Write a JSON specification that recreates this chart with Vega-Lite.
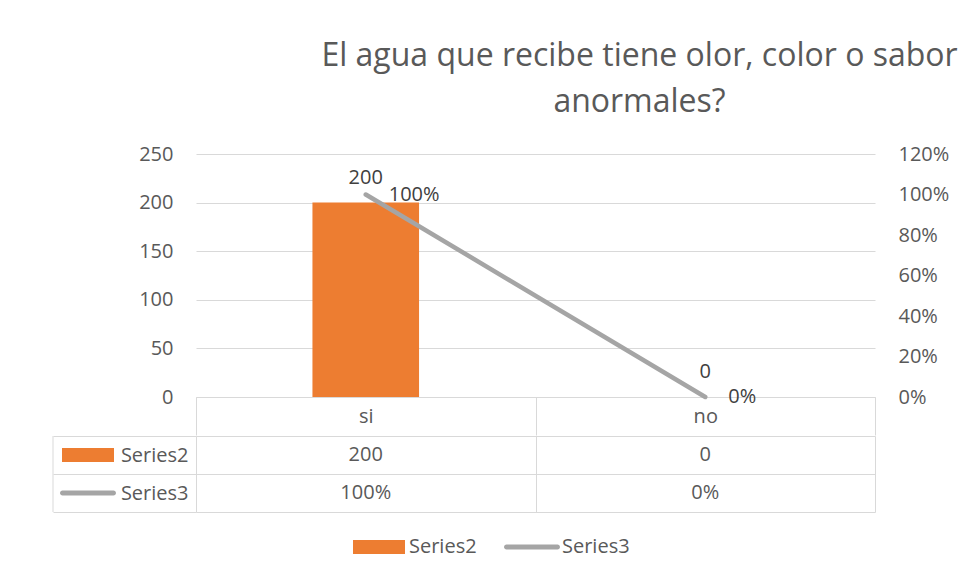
{
  "$schema": "https://vega.github.io/schema/vega-lite/v6.json",
  "background": "white",
  "padding": {"left": 52, "top": 40, "right": 0, "bottom": 70},
  "config": {
    "font": "Open Sans",
    "view": {"stroke": null},
    "axis": {"labelFont": "Open Sans", "labelColor": "#595959", "labelFontSize": 20},
    "concat": {"spacing": -12}
  },
  "datasets": {
    "chart": [
      {"cat": "si", "count": 200, "pct": 1},
      {"cat": "no", "count": 0, "pct": 0}
    ],
    "table": [
      {"cat": "si", "series": "Series2", "label": "200"},
      {"cat": "no", "series": "Series2", "label": "0"},
      {"cat": "si", "series": "Series3", "label": "100%"},
      {"cat": "no", "series": "Series3", "label": "0%"}
    ],
    "keys": [
      {"series": "Series2"},
      {"series": "Series3"}
    ]
  },
  "spacing": -12,
  "vconcat": [
    {
      "width": 679,
      "height": 243,
      "title": {
        "text": ["El agua que recibe tiene olor, color o sabor", "anormales?"],
        "fontSize": 32,
        "font": "Open Sans",
        "fontWeight": "normal",
        "color": "#595959",
        "anchor": "middle",
        "frame": "group",
        "dx": 104,
        "lineHeight": 46,
        "offset": 25
      },
      "data": {"name": "chart"},
      "encoding": {
        "x": {
          "field": "cat",
          "type": "nominal",
          "sort": ["si", "no"],
          "scale": {"paddingInner": 0, "paddingOuter": 0},
          "axis": {
            "title": null,
            "labelAngle": 0,
            "tickBand": "extent",
            "tickSize": 38,
            "tickColor": "#D9D9D9",
            "domainColor": "#D9D9D9",
            "labelPadding": -19,
            "labelBaseline": "middle",
            "grid": false
          }
        }
      },
      "layer": [
        {
          "layer": [
            {
              "mark": {"type": "bar", "color": "#ED7D31", "width": {"band": 0.314}},
              "encoding": {
                "y": {
                  "field": "count",
                  "type": "quantitative",
                  "scale": {"domain": [0, 250], "nice": false},
                  "axis": {
                    "title": null,
                    "values": [0, 50, 100, 150, 200, 250],
                    "grid": true,
                    "gridColor": "#D9D9D9",
                    "domain": false,
                    "ticks": false,
                    "labelPadding": 23
                  }
                }
              }
            },
            {
              "mark": {"type": "text", "baseline": "middle", "dy": -25, "fontSize": 20, "color": "#404040"},
              "encoding": {
                "y": {"field": "count", "type": "quantitative"},
                "text": {"field": "count", "type": "quantitative"}
              }
            }
          ]
        },
        {
          "layer": [
            {
              "mark": {"type": "line", "color": "#A5A5A5", "strokeWidth": 4.5, "strokeCap": "round"},
              "encoding": {
                "y": {
                  "field": "pct",
                  "type": "quantitative",
                  "scale": {"domain": [0, 1.2], "nice": false},
                  "axis": {
                    "title": null,
                    "orient": "right",
                    "format": ".0%",
                    "values": [0, 0.2, 0.4, 0.6, 0.8, 1, 1.2],
                    "grid": false,
                    "domain": false,
                    "ticks": false,
                    "labelPadding": 23
                  }
                }
              }
            },
            {
              "mark": {"type": "text", "align": "left", "baseline": "middle", "dx": 23, "fontSize": 20, "color": "#404040"},
              "encoding": {
                "y": {"field": "pct", "type": "quantitative"},
                "text": {"field": "pct", "type": "quantitative", "format": ".0%"}
              }
            }
          ]
        }
      ],
      "resolve": {"scale": {"y": "independent"}}
    },
    {
      "width": 679,
      "height": 76,
      "layer": [
        {
          "data": {"name": "table"},
          "mark": {"type": "text", "fontSize": 20, "color": "#595959"},
          "encoding": {
            "x": {
              "field": "cat",
              "type": "nominal",
              "sort": ["si", "no"],
              "scale": {"paddingInner": 0, "paddingOuter": 0},
              "axis": {
                "title": null,
                "labels": false,
                "ticks": false,
                "domain": false,
                "grid": true,
                "gridColor": "#D9D9D9",
                "tickBand": "extent"
              }
            },
            "y": {
              "field": "series",
              "type": "nominal",
              "sort": ["Series2", "Series3"],
              "scale": {"paddingInner": 0, "paddingOuter": 0},
              "axis": {
                "title": null,
                "grid": true,
                "gridColor": "#D9D9D9",
                "tickBand": "extent",
                "tickSize": 143,
                "tickColor": "#D9D9D9",
                "domain": false,
                "labelPadding": -135,
                "labelAlign": "right"
              }
            },
            "text": {"field": "label", "type": "nominal"}
          }
        },
        {
          "data": {"name": "keys"},
          "mark": {"type": "point", "filled": true, "size": 2704, "opacity": 1},
          "encoding": {
            "x": {
              "datum": "key",
              "type": "nominal",
              "scale": {"type": "point", "domain": ["key"], "range": [-108, -108]},
              "axis": null
            },
            "y": {"field": "series", "type": "nominal", "sort": ["Series2", "Series3"]},
            "color": {
              "field": "series",
              "type": "nominal",
              "scale": {"domain": ["Series2", "Series3"], "range": ["#ED7D31", "#A5A5A5"]},
              "legend": {
                "title": null,
                "orient": "none",
                "legendX": 157,
                "legendY": 367,
                "direction": "horizontal",
                "labelFontSize": 20,
                "labelFont": "Open Sans",
                "labelColor": "#595959",
                "labelLimit": 300,
                "symbolSize": 2704,
                "labelOffset": 4,
                "columnPadding": 27,
                "symbolOpacity": 1,
                "symbolStrokeWidth": 0,
                "padding": 0
              }
            },
            "shape": {
              "field": "series",
              "type": "nominal",
              "scale": {
                "domain": ["Series2", "Series3"],
                "range": [
                  "M-1,-0.27H1V0.27H-1Z",
                  "M-0.98,-0.096H0.98A0.096,0.096 0 0 1 0.98,0.096H-0.98A0.096,0.096 0 0 1 -0.98,-0.096Z"
                ]
              }
            }
          }
        },
        {
          "data": {"values": [{}]},
          "mark": {"type": "rule", "color": "#D9D9D9", "strokeWidth": 1},
          "encoding": {
            "x": {
              "datum": "edge",
              "type": "nominal",
              "scale": {"type": "point", "domain": ["edge"], "range": [-143, -143]},
              "axis": null
            }
          }
        }
      ],
      "resolve": {"scale": {"x": "independent"}}
    }
  ]
}
